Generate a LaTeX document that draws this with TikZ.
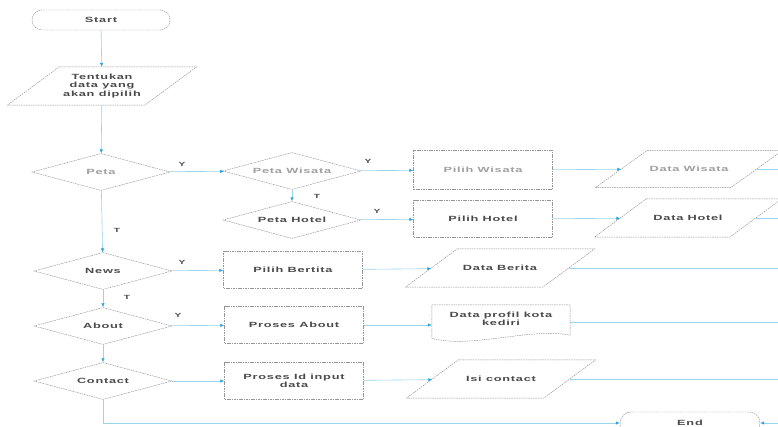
\documentclass[tikz,border=0pt]{standalone}
\usepackage{fontspec}
\setmainfont{Liberation Sans}
\newfontfamily\chartfont{Liberation Sans}[FakeStretch=1.7,LetterSpace=10]
\usetikzlibrary{shapes.geometric,arrows.meta,calc}

\definecolor{flowline}{HTML}{98D4EE}
\definecolor{tipblue}{HTML}{2BA3DC}
\definecolor{outline}{HTML}{959595}
\definecolor{inkdark}{HTML}{4A4A4A}
\definecolor{inklight}{HTML}{A0A0A0}

\tikzset{
  base/.style={font=\chartfont\bfseries\fontsize{7.5}{8.5}\selectfont, text=inkdark, align=center, inner sep=0pt},
  outl/.style={draw=outline, line width=0.45pt, dash pattern=on 1.6pt off 0.8pt},
  decision/.style={base, outl, diamond, aspect=3.7, minimum width=138pt, minimum height=37pt},
  process/.style={base, outl, rectangle, minimum width=139pt, minimum height=37pt},
  terminal/.style={base, outl, rectangle, rounded corners=10pt, minimum width=138pt, minimum height=20pt},
  iobox/.style={base, rectangle, minimum width=137pt, minimum height=38pt},
  docbox/.style={base, rectangle, minimum width=138pt, minimum height=26pt},
  flow/.style={draw=flowline, line width=0.6pt, -{Latex[length=4pt,width=3.5pt,color=tipblue]}},
  plain/.style={draw=flowline, line width=0.6pt},
  lbl/.style={font=\chartfont\bfseries\fontsize{6}{6}\selectfont, text=inkdark, inner sep=0pt}
}

% slanted outline of an input/output node
\newcommand{\ioframe}[1]{%
  \draw[outl] ($(#1.north west)+(26,0)$) -- ($(#1.north east)+(26,0)$)
    -- ($(#1.south east)+(-26,0)$) -- ($(#1.south west)+(-26,0)$) -- cycle;}

\begin{document}
\begin{tikzpicture}[x=1pt,y=-1pt]
\useasboundingbox (0,0) rectangle (778,427);
\fill[white] (0,0) rectangle (778,427);
\clip (0,0) rectangle (778,427);

% nodes
\node[terminal] (start) at (101,20) {Start};
\node[iobox] (choose) at (102,86) {Tentukan\\data yang\\akan dipilih};
\ioframe{choose}

\node[decision, text=inklight] (peta) at (101,172) {Peta};
\node[decision, text=inklight] (wisata) at (292,171) {Peta Wisata};
\node[process, text=inklight, minimum height=39pt] (pwisata) at (483,170) {Pilih Wisata};
\node[iobox, text=inklight, minimum width=135pt, minimum height=37pt] (dwisata) at (689,169) {Data Wisata};
\ioframe{dwisata}

\node[decision] (hotel) at (292,220) {Peta Hotel};
\node[process] (photel) at (483,219) {Pilih Hotel};
\node[iobox, minimum width=135pt] (dhotel) at (688,218) {Data Hotel};
\ioframe{dhotel}

\node[decision] (news) at (103,271) {News};
\node[process] (pberita) at (293,270) {Pilih Bertita};
\node[iobox] (dberita) at (500,268) {Data Berita};
\ioframe{dberita}

\node[decision] (about) at (103,326) {About};
\node[process] (pabout) at (294,325) {Proses About};
\node[docbox] (dprofil) at (501,319) {Data profil kota\\kediri};
\draw[outl] ($(dprofil.north west)+(0,-1)$) -- ($(dprofil.north east)+(0,-1)$) -- ($(dprofil.south east)+(0,3)$)
  .. controls ($(dprofil.south east)+(-40,-5)$) and ($(dprofil.south west)+(38,17)$) .. ($(dprofil.south west)+(0,6)$) -- cycle;

\node[decision] (contact) at (103,381) {Contact};
\node[process] (pid) at (294,381) {Proses Id input\\data};
\node[iobox] (isi) at (501,379) {Isi contact};
\ioframe{isi}

\node[terminal, minimum width=140pt, minimum height=22pt, rounded corners=11pt] (end) at (690,423) {End};

% free ends at the right margin
\coordinate (rw) at (778,169);
\coordinate (rh) at (778,218);
\coordinate (rb) at (778,268);
\coordinate (rp) at (778,322);
\coordinate (rc) at (778,379);
\coordinate (re) at (778,423);
\coordinate (turn) at (103,423);

% connectors
\draw[flow] (start) -- (choose);
\draw[flow] (choose) -- (peta);

\draw[flow] (peta) -- (wisata);
\draw[flow] (wisata) -- (pwisata);
\draw[flow] (pwisata) -- (dwisata);
\draw[plain] (dwisata.east) -- (rw);
\draw[flow] (wisata) -- (hotel);
\draw[flow] (hotel) -- (photel);
\draw[flow] (photel) -- (dhotel);
\draw[plain] (dhotel.east) -- (rh);

\draw[flow] (peta) -- (news);
\draw[flow] (news) -- (pberita);
\draw[flow] (pberita) -- (dberita);
\draw[plain] (dberita.east) -- (rb);

\draw[flow] (news) -- (about);
\draw[flow] (about) -- (pabout);
\draw[flow] (pabout.east) -- (pabout.east -| dprofil.west);
\draw[plain] (dprofil.east |- rp) -- (rp);

\draw[flow] (about) -- (contact);
\draw[flow] (contact) -- (pid);
\draw[flow] (pid) -- (isi);
\draw[plain] (isi.east) -- (rc);

\draw[flow] (contact.south) -- (turn) -- (end.west);
\draw[flow] (re) -- (end.east);

% branch labels
\node[lbl] (y1) at (182,164) {Y};
\node[lbl] (y2) at (368,161) {Y};
\node[lbl] (t1) at (317,196) {T};
\node[lbl] (y3) at (377,211) {Y};
\node[lbl] (t2) at (117,230) {T};
\node[lbl] (y4) at (182,262) {Y};
\node[lbl] (t3) at (127,297) {T};
\node[lbl] (y5) at (178,315) {Y};
\end{tikzpicture}
\end{document}
